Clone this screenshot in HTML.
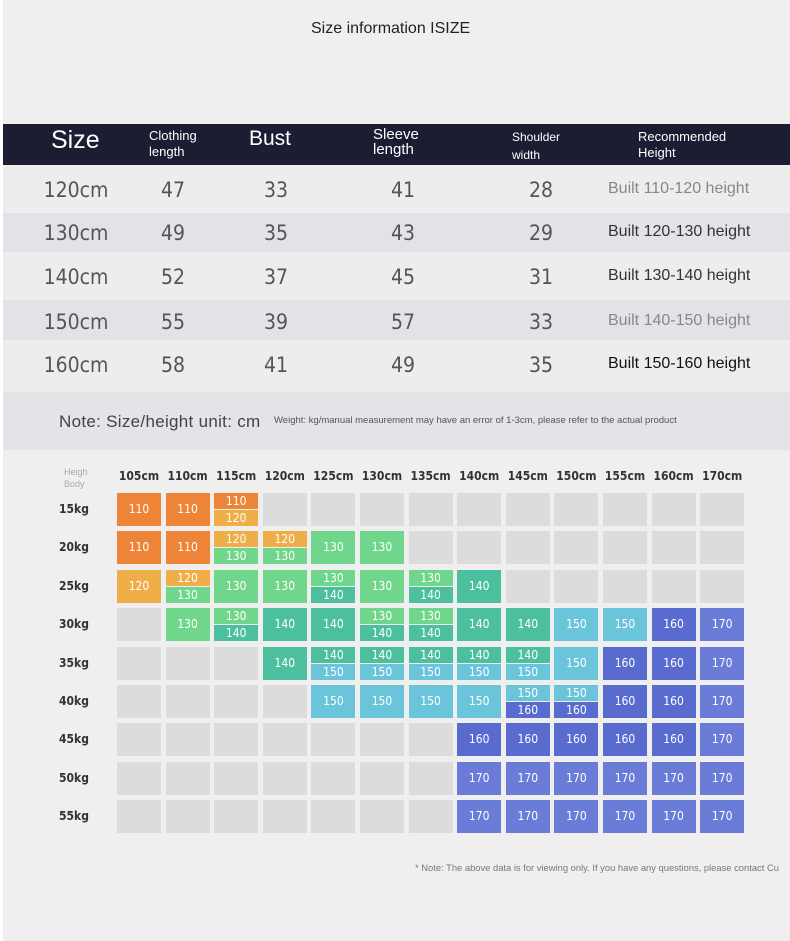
<!DOCTYPE html>
<html><head><meta charset="utf-8"><style>
body{margin:0;width:790px;height:941px;background:#efeff0;font-family:"Liberation Sans",sans-serif;position:relative;overflow:hidden}
.a{position:absolute}
.t{position:absolute;color:#555;font-size:21px;font-family:"DejaVu Sans Condensed","Liberation Sans",sans-serif;transform:translateX(-50%)}
.h{position:absolute;color:#fff}
.c{position:absolute;width:44px;font-size:12px;color:#fff;text-align:center;font-family:"DejaVu Sans Condensed",sans-serif}
.lab{position:absolute;font-size:12px;font-weight:bold;color:#333;font-family:"DejaVu Sans Condensed",sans-serif}
</style></head><body>
<div class="a" style="left:0;top:0;width:3px;height:941px;background:#fff"></div>
<div class="a" style="left:311px;top:20px;font-size:16px;color:#222">Size information ISIZE</div>
<div class="a" style="left:3px;top:124px;width:787px;height:41px;background:#1c1c33"></div>
<div class="h" style="left:51px;top:126px;font-size:25px">Size</div>
<div class="h" style="left:149px;top:128px;font-size:13px;line-height:16px">Clothing<br>length</div>
<div class="h" style="left:249px;top:127px;font-size:21px">Bust</div>
<div class="h" style="left:373px;top:127px;font-size:15px;line-height:15px">Sleeve<br>length</div>
<div class="h" style="left:512px;top:128px;font-size:12px;line-height:18px">Shoulder<br>width</div>
<div class="h" style="left:638px;top:129px;font-size:13px;line-height:16px">Recommended<br>Height</div>
<div class="a" style="left:3px;top:165px;width:787px;height:48px;background:#ededee"></div>
<div class="a" style="left:3px;top:213px;width:787px;height:39px;background:#e3e3e7"></div>
<div class="a" style="left:3px;top:252px;width:787px;height:48px;background:#ededee"></div>
<div class="a" style="left:3px;top:300px;width:787px;height:40px;background:#e3e3e7"></div>
<div class="a" style="left:3px;top:340px;width:787px;height:52px;background:#ededee"></div>
<div class="a" style="left:3px;top:392px;width:787px;height:58px;background:#e4e4e8"></div>
<div id="tb"></div>
<div class="a" style="left:59px;top:412px;font-size:17px;letter-spacing:0.3px;color:#444">Note: Size/height unit: cm</div>
<div class="a" style="left:274px;top:415px;font-size:9.5px;color:#555;white-space:nowrap">Weight: kg/manual measurement may have an error of 1-3cm, please refer to the actual product</div>
<div class="a" style="left:64px;top:466px;font-size:9px;color:#aaa;line-height:12px">Heigh<br>Body</div>
<div id="g"></div>
<div class="a" style="left:415px;top:862px;font-size:9.4px;color:#777;white-space:nowrap">* Note: The above data is for viewing only. If you have any questions, please contact Cu</div>
<script>
var tb=document.getElementById('tb'),s='';
var rows=[[190,"120cm",47,33,41,28,"Built 110-120 height","#888"],[233,"130cm",49,35,43,29,"Built 120-130 height","#333"],[277,"140cm",52,37,45,31,"Built 130-140 height","#333"],[322,"150cm",55,39,57,33,"Built 140-150 height","#888"],[365,"160cm",58,41,49,35,"Built 150-160 height","#111"]];
var xs=[76,173,276,403,541];
rows.forEach(function(r){for(var i=0;i<5;i++)s+='<div class="t" style="left:'+xs[i]+'px;top:'+(r[0]-12)+'px">'+r[i+1]+'</div>';
s+='<div class="a" style="left:608px;top:'+(r[0]-10)+'px;font-size:16px;color:'+r[7]+'">'+r[6]+'</div>';});
tb.innerHTML=s;
var col={110:"#ee8438",120:"#f0ae48",130:"#6fd68b",140:"#4cbf9f",150:"#6ac5db",160:"#5a6bd0",170:"#6a7bd8"};
var hs=["105cm","110cm","115cm","120cm","125cm","130cm","135cm","140cm","145cm","150cm","155cm","160cm","170cm"];
var ws=["15kg","20kg","25kg","30kg","35kg","40kg","45kg","50kg","55kg"];
var D=[
"110,110,110/120,0,0,0,0,0,0,0,0,0,0",
"110,110,120/130,120/130,130,130,0,0,0,0,0,0,0",
"120,120/130,130,130,130/140,130,130/140,140,0,0,0,0,0",
"0,130,130/140,140,140,130/140,130/140,140,140,150,150,160,170",
"0,0,0,140,140/150,140/150,140/150,140/150,140/150,150,160,160,170",
"0,0,0,0,150,150,150,150,150/160,150/160,160,160,170",
"0,0,0,0,0,0,0,160,160,160,160,160,170",
"0,0,0,0,0,0,0,170,170,170,170,170,170",
"0,0,0,0,0,0,0,170,170,170,170,170,170"];
var g='';
hs.forEach(function(h,i){g+='<div class="lab" style="left:'+(117+i*48.6-4)+'px;top:469px;width:52px;text-align:center">'+h+'</div>';});
ws.forEach(function(w,j){var y=493+j*38.4;g+='<div class="lab" style="left:59px;top:'+(y+9)+'px">'+w+'</div>';
D[j].split(',').forEach(function(v,i){var x=117+i*48.6;
if(v=='0'){g+='<div class="c" style="left:'+x+'px;top:'+y+'px;height:33px;background:#dcdcdd"></div>';}
else if(v.indexOf('/')<0){g+='<div class="c" style="left:'+x+'px;top:'+y+'px;height:33px;line-height:33px;background:'+col[v]+'">'+v+'</div>';}
else{var p=v.split('/');g+='<div class="c" style="left:'+x+'px;top:'+y+'px;height:16px;line-height:16px;background:'+col[p[0]]+'">'+p[0]+'</div><div class="c" style="left:'+x+'px;top:'+(y+17)+'px;height:16px;line-height:16px;background:'+col[p[1]]+'">'+p[1]+'</div>';}
});});
document.getElementById('g').innerHTML=g;
</script>
</body></html>
